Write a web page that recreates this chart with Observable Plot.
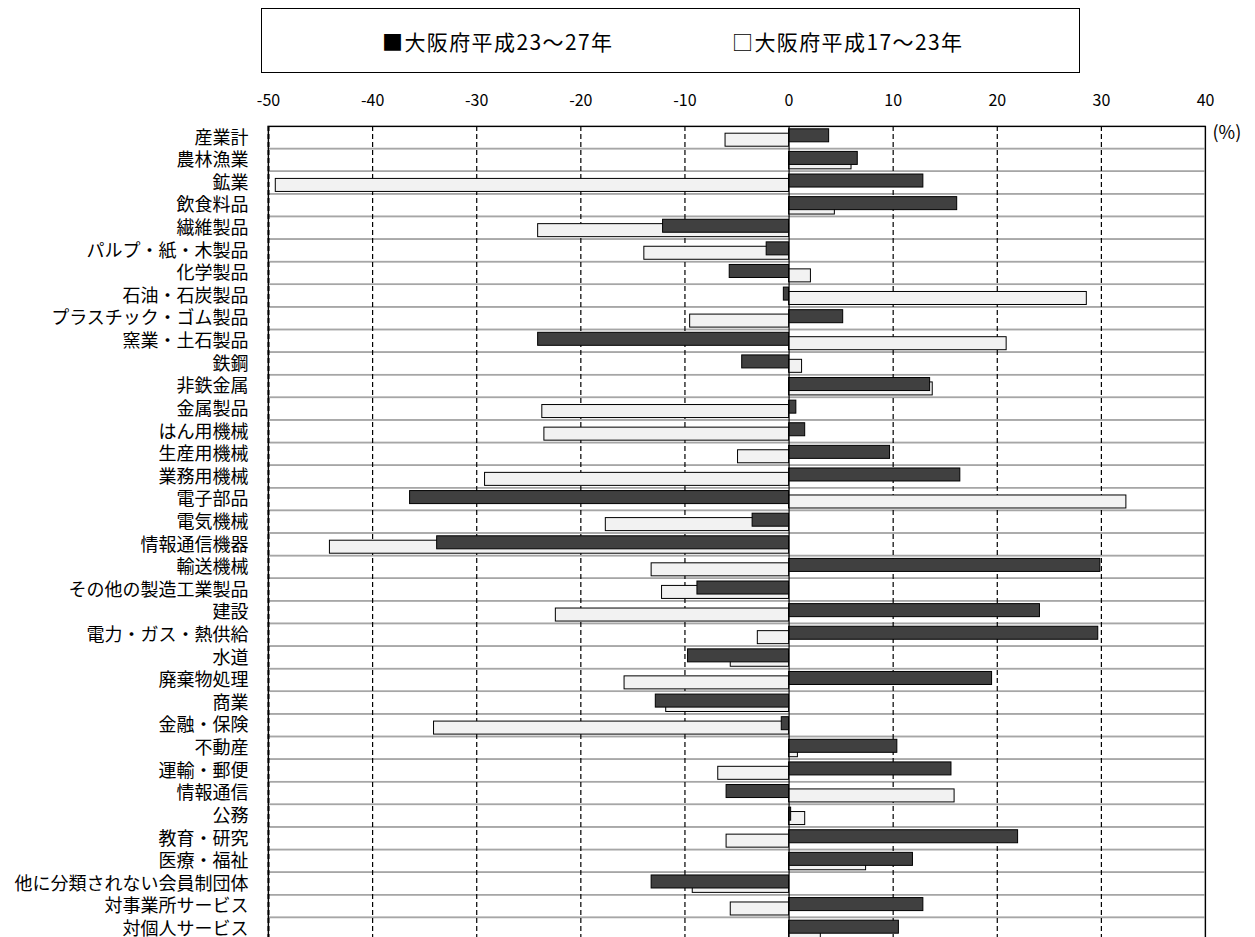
<!DOCTYPE html>
<html>
<head>
<meta charset="utf-8">
<script src="https://cdn.jsdelivr.net/npm/d3@7"></script>
<script src="https://cdn.jsdelivr.net/npm/@observablehq/plot@0.6"></script>
<style>
  html, body { margin: 0; padding: 0; background: #fff; }
  body { font-family: 'Noto Sans CJK JP', 'Noto Sans', sans-serif; }
  #legend { position: relative; width: 1255px; height: 80px; }
  #legend .box { position: absolute; left: 261px; top: 8px; width: 819px; height: 65px; border: 1px solid #000; box-sizing: border-box; }
  #legend .item { position: absolute; top: 27px; font-size: 21px; letter-spacing: 1.4px; line-height: 28px; color: #000; white-space: nowrap; }
  #chart svg [aria-label^="x-axis"] text { font-size: 16px; }
  #chart svg [aria-label^="y-axis"] text { font-family: 'Liberation Sans', 'Noto Sans CJK JP', sans-serif; }
</style>
</head>
<body>
<div id="legend">
  <div class="box"></div>
  <div class="item" id="leg1" style="left:382px"></div>
  <div class="item" id="leg2" style="left:732px"></div>
</div>
<div id="chart"></div>
<script>
const categories = [
  "産業計","農林漁業","鉱業","飲食料品","繊維製品","パルプ・紙・木製品","化学製品","石油・石炭製品",
  "プラスチック・ゴム製品","窯業・土石製品","鉄鋼","非鉄金属","金属製品","はん用機械","生産用機械","業務用機械",
  "電子部品","電気機械","情報通信機器","輸送機械","その他の製造工業製品","建設","電力・ガス・熱供給","水道",
  "廃棄物処理","商業","金融・保険","不動産","運輸・郵便","情報通信","公務","教育・研究",
  "医療・福祉","他に分類されない会員制団体","対事業所サービス","対個人サービス"
];
// 大阪府平成23～27年
const seriesH23_27 = [
  3.85, 6.6, 12.9, 16.15, -12.1, -2.15, -5.7, -0.5,
  5.2, -24.1, -4.5, 13.55, 0.7, 1.55, 9.7, 16.45,
  -36.4, -3.5, -33.8, 29.9, -8.8, 24.1, 29.7, -9.7,
  19.5, -12.8, -0.7, 10.4, 15.6, -6.0, 0.2, 22.0,
  11.9, -13.2, 12.9, 10.55
];
// 大阪府平成17～23年
const seriesH17_23 = [
  -6.1, 6.0, -49.3, 4.4, -24.1, -13.9, 2.1, 28.6,
  -9.5, 20.9, 1.25, 13.8, -23.7, -23.5, -4.9, -29.2,
  32.4, -17.6, -44.1, -13.2, -12.2, -22.4, -3.0, -5.6,
  -15.8, -11.8, -34.1, 0.85, -6.8, 15.9, 1.55, -6.0,
  7.4, -9.25, -5.6, 3.05
];
const seriesNames = ["大阪府平成23～27年", "大阪府平成17～23年"];
const xTicks = [-50, -40, -30, -20, -10, 0, 10, 20, 30, 40];
const gridTicks = [-40, -30, -20, -10, 10, 20, 30];

document.getElementById("leg1").textContent = "■" + seriesNames[0];
document.getElementById("leg2").textContent = "□" + seriesNames[1];

const rows = categories.map((c, i) => ({cat: c, a: seriesH23_27[i], b: seriesH17_23[i]}));

const bandH = 22.6;
const marginTop = 46;
const plotH = bandH * categories.length;

const chart = Plot.plot({
  width: 1255,
  height: Math.round(marginTop + plotH + 10),
  marginLeft: 268,
  marginRight: 50,
  marginTop: marginTop,
  marginBottom: 10,
  style: {fontFamily: "'Noto Sans CJK JP', 'Noto Sans', sans-serif", fontSize: "18px", color: "#000", background: "#fff", overflow: "visible"},
  x: {domain: [-50, 40], ticks: xTicks, axis: "top", tickSize: 0, tickPadding: 21, label: null, tickFormat: d => String(d)},
  y: {domain: categories, padding: 0, round: false, axis: "left", tickSize: 0, tickPadding: 20, label: null},
  marks: [
    Plot.barX(categories, {y: d => d, x1: -50, x2: 40, fill: "none", stroke: "#a6a6a6", strokeWidth: 1.5}),
    Plot.ruleX(gridTicks, {stroke: "#000", strokeWidth: 1.2, strokeDasharray: "5,3"}),
    Plot.barX(rows, {y: "cat", x1: 0, x2: "b", fill: "#f2f2f2", stroke: "#000", strokeWidth: 1, insetTop: 7.2, insetBottom: 2.4}),
    Plot.barX(rows, {y: "cat", x1: 0, x2: "a", fill: "#404040", stroke: "#000", strokeWidth: 1, insetTop: 2.8, insetBottom: 6.8}),
    Plot.ruleX([0], {stroke: "#000", strokeWidth: 1.2}),
    Plot.frame({stroke: "#000", strokeWidth: 1.2}),
    Plot.ruleX([-50], {stroke: "#000", strokeWidth: 2, strokeDasharray: "5,3"}),
    Plot.text(["(%)"], {frameAnchor: "top-right", dx: 7, dy: 7, textAnchor: "start", lineAnchor: "middle", fontSize: 18, letterSpacing: "1.5px"})
  ]
});
document.getElementById("chart").appendChild(chart);
</script>
</body>
</html>
